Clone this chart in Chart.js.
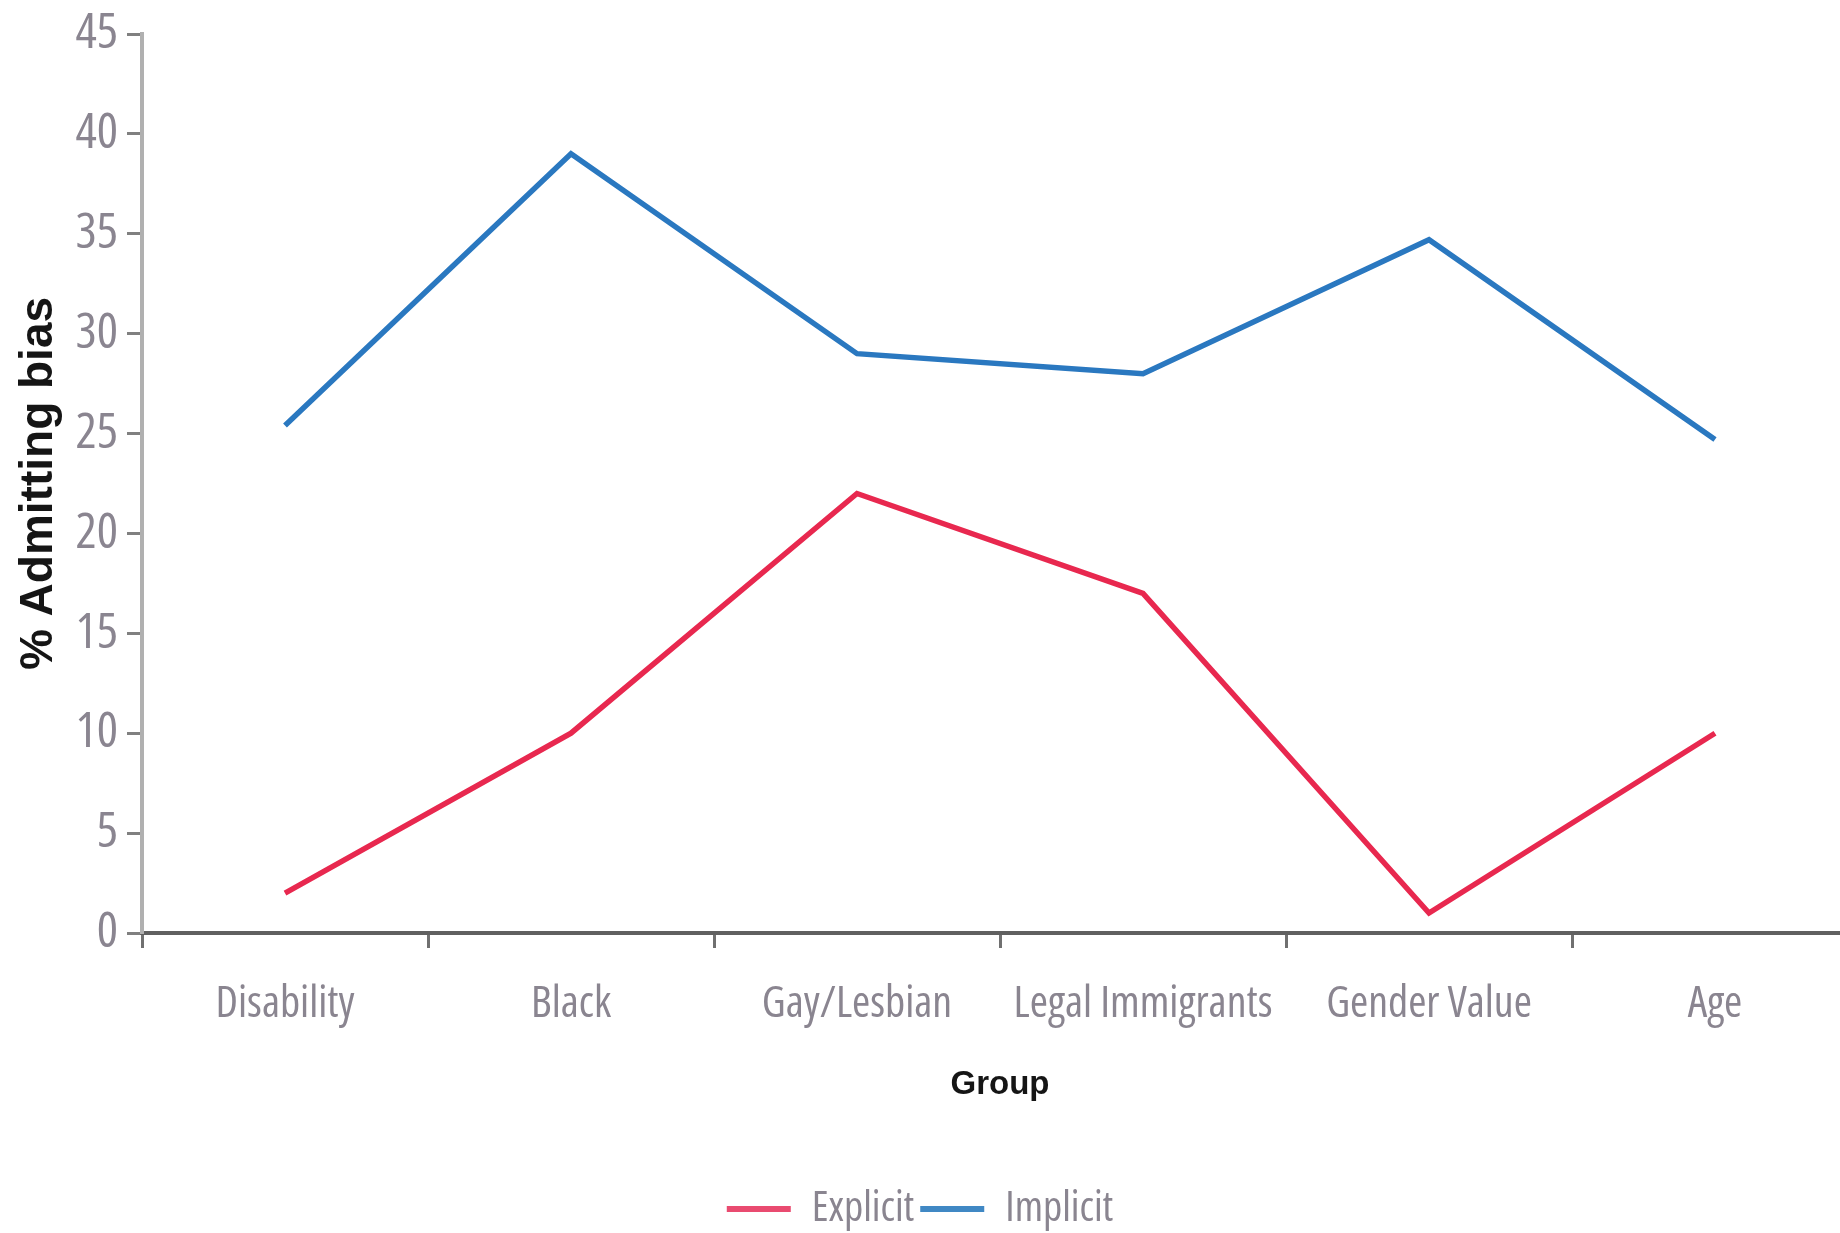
<!DOCTYPE html>
<html>
<head>
<meta charset="utf-8">
<script src="https://cdn.jsdelivr.net/npm/chart.js"></script>
<style>
  html, body { margin: 0; padding: 0; background: #fff; }
  #wrap { width: 1840px; height: 1233px; position: relative; }
</style>
</head>
<body>
<div id="wrap"><canvas id="biasChart"></canvas></div>
<script>
// Dữ liệu biểu đồ
const groups = ['Disability', 'Black', 'Gay/Lesbian', 'Legal Immigrants', 'Gender Value', 'Age'];
const explicitValues = [2, 10, 22, 17, 1, 10];
const implicitValues = [25.4, 39, 29, 28, 34.7, 24.7];
const yTicks = [0, 5, 10, 15, 20, 25, 30, 35, 40, 45];

// phông hẹp: "condensed" được đặt vào chỗ weight để vào chuỗi font của canvas
const narrow = '"Open Sans", "Noto Sans", "DejaVu Sans", sans-serif';
const narrowStretch = 'condensed';
const bold = '"Liberation Sans", Arial, sans-serif';

// Trục x trong ảnh gốc kéo dài quá mép phải, chú thích nằm sát đáy hơn
const layoutTweaks = {
  id: 'layoutTweaks',
  afterLayout(chart) {
    const x = chart.scales.x;
    const extra = 18;
    x.right += extra;
    x.width += extra;
    x.configure();

    const legend = chart.legend;
    if (legend) {
      legend.top += 7;
      legend.bottom += 7;
    }
  }
};

const ctx = document.getElementById('biasChart').getContext('2d');
new Chart(ctx, {
  type: 'line',
  data: {
    labels: groups,
    datasets: [
      {
        label: 'Explicit',
        data: explicitValues,
        borderColor: '#e8284f',
        backgroundColor: '#e94b70',
        borderWidth: 5.5,
        pointRadius: 0,
        tension: 0
      },
      {
        label: 'Implicit',
        data: implicitValues,
        borderColor: '#2a78c0',
        backgroundColor: '#4088c4',
        borderWidth: 5.5,
        pointRadius: 0,
        tension: 0
      }
    ]
  },
  options: {
    responsive: true,
    maintainAspectRatio: false,
    animation: false,
    layout: {
      padding: { left: 0, right: 0, top: 33, bottom: 0 }
    },
    scales: {
      x: {
        offset: true,
        grid: {
          offset: true,
          drawOnChartArea: false,
          drawTicks: true,
          tickLength: 15,
          tickColor: '#707070',
          tickWidth: 3
        },
        border: { color: '#606060', width: 4 },
        ticks: {
          color: '#8a8590',
          font: { family: narrow, size: 44, weight: narrowStretch },
          padding: 30,
          maxRotation: 0,
          autoSkip: false
        },
        title: {
          display: true,
          text: 'Group',
          color: '#151515',
          font: { family: bold, size: 33, weight: 'bold' },
          padding: { top: 0, bottom: 70 }
        },
        afterFit: function(scale) {
          scale.height = 242;
        }
      },
      y: {
        min: 0,
        max: 45,
        afterBuildTicks: function(scale) {
          scale.ticks = yTicks.map(v => ({ value: v }));
        },
        grid: {
          drawOnChartArea: false,
          drawTicks: true,
          tickLength: 15,
          tickColor: '#808080',
          tickWidth: 3
        },
        border: { color: '#b0b0b0', width: 4 },
        ticks: {
          color: '#8a8590',
          font: { family: narrow, size: 50, weight: narrowStretch, lineHeight: 1 },
          padding: 9
        },
        title: {
          display: true,
          text: '% Admitting bias',
          color: '#151515',
          font: { family: bold, size: 46, weight: 'bold' },
          padding: { top: 12, bottom: 0 }
        },
        afterFit: function(scale) {
          scale.width = 142;
        }
      }
    },
    plugins: {
      legend: {
        position: 'bottom',
        labels: {
          boxWidth: 64,
          boxHeight: 6,
          padding: 6,
          color: '#8a8590',
          font: { family: narrow, size: 42, weight: narrowStretch },
          generateLabels: function(chart) {
            return chart.data.datasets.map((ds, i) => ({
              text: ds.label,
              fillStyle: ds.backgroundColor,
              strokeStyle: ds.backgroundColor,
              lineWidth: 0,
              fontColor: '#8a8590',
              datasetIndex: i,
              hidden: false
            }));
          }
        }
      },
      tooltip: { enabled: false }
    }
  },
  plugins: [layoutTweaks]
});
</script>
</body>
</html>
